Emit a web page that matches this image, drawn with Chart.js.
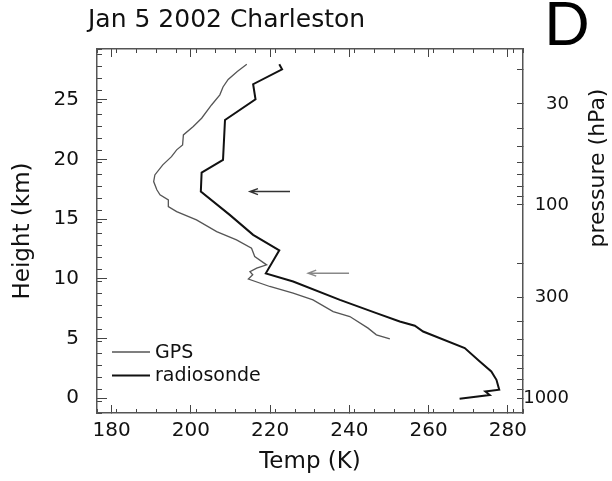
<!DOCTYPE html>
<html>
<head>
<meta charset="utf-8">
<script src="https://cdn.jsdelivr.net/npm/chart.js@4.4.1/dist/chart.umd.min.js"></script>
<style>
  html, body { margin: 0; padding: 0; background: #fff; }
  canvas { display: block; }
</style>
</head>
<body>
<canvas id="chart" width="612" height="481"></canvas>
<script>
// GPS profile: temperature (K) and height (km)
const gpsTemp = [214.1, 211.7, 209.4, 208.1, 207.3, 205.2, 202.7, 200.6, 198.1, 197.9,
  196.4, 195.1, 192.9, 190.9, 190.6, 191.4, 192.2, 194.3, 194.3, 196.4,
  201.4, 206.5, 211.5, 215.3, 216.1, 219.1, 216.6, 214.9, 215.6, 214.5,
  219.9, 225.8, 230.8, 235.9, 240.1, 244.7, 246.8, 250.2];
const gpsHeight = [27.97, 27.37, 26.70, 26.07, 25.41, 24.56, 23.45, 22.75, 22.05, 21.21,
  20.80, 20.23, 19.54, 18.70, 18.14, 17.45, 17.03, 16.61, 16.05, 15.63,
  14.93, 13.95, 13.26, 12.56, 11.86, 11.16, 10.89, 10.60, 10.33, 9.97,
  9.35, 8.79, 8.23, 7.25, 6.83, 5.86, 5.30, 4.97];

// radiosonde profile
const sondeTemp = [222.3, 223.0, 215.7, 216.3, 208.6, 208.1, 202.7, 202.5, 209.8, 215.7,
  222.3, 218.9, 225.8, 237.6, 246.8, 252.7, 256.5, 258.6, 269.1, 272.9,
  275.8, 277.1, 277.8, 274.3, 275.4, 267.8];
const sondeHeight = [27.97, 27.55, 26.30, 25.04, 23.30, 19.96, 18.90, 17.30, 15.35, 13.68,
  12.38, 10.45, 9.77, 8.23, 7.12, 6.42, 6.06, 5.58, 4.19, 3.07,
  2.23, 1.53, 0.70, 0.55, 0.25, -0.06];

// the two arrows (height, tail temp, head temp)
const arrowHeight = [17.3, 10.47];
const arrowTailTemp = [225.0, 239.9];
const arrowHeadTemp = [214.9, 229.6];

// axes
const tempTicks = [180, 200, 220, 240, 260, 280];
const heightTicks = [0, 5, 10, 15, 20, 25];
const pressureTicks = [20, 30, 40, 50, 60, 70, 80, 90, 100, 200, 300, 400, 500, 600, 700, 800, 900, 1000];
const pressureLabels = [30, 100, 300, 1000];

const toPoints = (xs, ys) => xs.map((v, i) => ({ x: v, y: ys[i] }));

const X_MIN = 176.3, X_MAX = 283.8;
const Y_MIN = -1.25, Y_MAX = 29.25;
const P_TOP = 15.6, P_BOTTOM = 1194.6;

Chart.defaults.font.family = '"DejaVu Sans", sans-serif';
Chart.defaults.color = '#111';

function tickMarks(opts) {
  return Object.assign({
    type: 'linear',
    bounds: 'data',
    min: X_MIN,
    max: X_MAX,
    grid: { drawOnChartArea: false, drawTicks: true, color: '#444', lineWidth: 1 },
    border: { display: false },
    ticks: { display: false, autoSkip: false, includeBounds: false },
  }, opts);
}

const extras = {
  id: 'extras',
  afterDraw(chart) {
    const { ctx, chartArea, scales } = chart;
    const xs = scales.x, ys = scales.y;
    ctx.save();

    // arrows
    const arrowColors = ['#333', '#888'];
    arrowHeight.forEach((h, i) => {
      const y = ys.getPixelForValue(h);
      const x0 = xs.getPixelForValue(arrowTailTemp[i]);
      const x1 = xs.getPixelForValue(arrowHeadTemp[i]);
      ctx.strokeStyle = arrowColors[i];
      ctx.lineWidth = 1.5;
      ctx.beginPath();
      ctx.moveTo(x0, y);
      ctx.lineTo(x1, y);
      ctx.moveTo(x1 + 8, y - 3);
      ctx.lineTo(x1, y);
      ctx.lineTo(x1 + 8, y + 3);
      ctx.stroke();
    });

    // legend, bottom left inside the frame
    ctx.font = '19px "DejaVu Sans"';
    ctx.textAlign = 'left';
    ctx.textBaseline = 'middle';
    chart.data.datasets.forEach((ds, i) => {
      const y = chartArea.bottom - 61 + i * 23.5;
      const x = chartArea.left + 15;
      ctx.strokeStyle = ds.borderColor;
      ctx.lineWidth = ds.borderWidth;
      ctx.beginPath();
      ctx.moveTo(x, y);
      ctx.lineTo(x + 38, y);
      ctx.stroke();
      ctx.fillStyle = '#111';
      ctx.fillText(ds.label, x + 43, y + 1);
    });

    // title
    ctx.textBaseline = 'alphabetic';
    ctx.font = '25px "DejaVu Sans"';
    ctx.fillText('Jan 5 2002 Charleston', chartArea.left - 9, 27);

    // panel letter
    ctx.font = '60px Lato';
    ctx.fillStyle = '#000';
    ctx.fillText('D', 544, 45);

    // right axis title
    ctx.translate(598, 168);
    ctx.rotate(-Math.PI / 2);
    ctx.textAlign = 'center';
    ctx.textBaseline = 'middle';
    ctx.font = '22px "DejaVu Sans"';
    ctx.fillStyle = '#111';
    ctx.fillText('pressure (hPa)', 0, 0);
    ctx.restore();
  }
};

new Chart(document.getElementById('chart'), {
  type: 'line',
  data: {
    datasets: [
      {
        label: 'GPS',
        data: toPoints(gpsTemp, gpsHeight),
        borderColor: '#555',
        borderWidth: 1.3,
        pointRadius: 0,
        tension: 0,
        xAxisID: 'x',
        yAxisID: 'y',
      },
      {
        label: 'radiosonde',
        data: toPoints(sondeTemp, sondeHeight),
        borderColor: '#111',
        borderWidth: 2,
        pointRadius: 0,
        tension: 0,
        xAxisID: 'x',
        yAxisID: 'y',
      },
    ],
  },
  options: {
    responsive: false,
    animation: false,
    devicePixelRatio: 1,
    layout: { padding: { top: 49, right: 43, bottom: 0, left: 0 } },
    plugins: { legend: { display: false }, tooltip: { enabled: false } },
    scales: {
      x: {
        type: 'linear',
        position: 'bottom',
        bounds: 'data',
        weight: 1,
        min: X_MIN,
        max: X_MAX,
        afterBuildTicks: s => { s.ticks = tempTicks.map(v => ({ value: v })); },
        afterFit: s => { s.height = 68; },
        grid: { drawOnChartArea: false, drawTicks: true, tickLength: -8, color: '#444' },
        border: { display: true, color: '#555', width: 1.5 },
        ticks: { autoSkip: false, maxRotation: 0, padding: 14, font: { size: 20 } },
        title: { display: true, text: 'Temp (K)', font: { size: 23 }, padding: { top: 0, bottom: 5 } },
      },
      xMinor: tickMarks({
        position: 'bottom', weight: 0,
        afterFit: s => { s.height = 0; },
        grid: { drawOnChartArea: false, tickLength: -4, color: '#444' },
        ticks: { display: false, autoSkip: false, includeBounds: false, stepSize: 5 },
      }),
      xTop: tickMarks({
        position: 'top', weight: 1,
        afterBuildTicks: s => { s.ticks = tempTicks.map(v => ({ value: v })); },
        afterFit: s => { s.height = 0; },
        grid: { drawOnChartArea: false, tickLength: -8, color: '#444' },
        border: { display: true, color: '#555', width: 1.5 },
      }),
      xTopMinor: tickMarks({
        position: 'top', weight: 0,
        afterFit: s => { s.height = 0; },
        grid: { drawOnChartArea: false, tickLength: -4, color: '#444' },
        ticks: { display: false, autoSkip: false, includeBounds: false, stepSize: 5 },
      }),
      y: {
        type: 'linear',
        position: 'left',
        bounds: 'data',
        weight: 1,
        min: Y_MIN,
        max: Y_MAX,
        afterBuildTicks: s => { s.ticks = heightTicks.map(v => ({ value: v })); },
        afterFit: s => { s.width = 97; },
        grid: { drawOnChartArea: false, drawTicks: true, tickLength: -10, color: '#444' },
        border: { display: true, color: '#555', width: 1.5 },
        ticks: { autoSkip: false, padding: 28, font: { size: 20 } },
        title: { display: true, text: 'Height (km)', font: { size: 23 }, padding: { top: 9, bottom: 0 } },
      },
      yMinor: tickMarks({
        position: 'left', weight: 0,
        min: Y_MIN, max: Y_MAX,
        afterFit: s => { s.width = 0; },
        grid: { drawOnChartArea: false, tickLength: -5, color: '#444' },
        ticks: { display: false, autoSkip: false, includeBounds: false, stepSize: 1 },
      }),
      p: {
        type: 'logarithmic',
        position: 'right',
        bounds: 'data',
        reverse: true,
        min: P_TOP,
        max: P_BOTTOM,
        afterBuildTicks: s => { s.ticks = pressureTicks.map(v => ({ value: v })); },
        afterFit: s => { s.width = 46; },
        grid: { drawOnChartArea: false, drawTicks: true, tickLength: -6, color: '#444' },
        border: { display: true, color: '#555', width: 1.5 },
        ticks: {
          autoSkip: false,
          crossAlign: 'far',
          font: { size: 18 },
          callback: v => pressureLabels.includes(v) ? String(v) : '',
        },
      },
    },
  },
  plugins: [extras],
});
</script>
</body>
</html>
